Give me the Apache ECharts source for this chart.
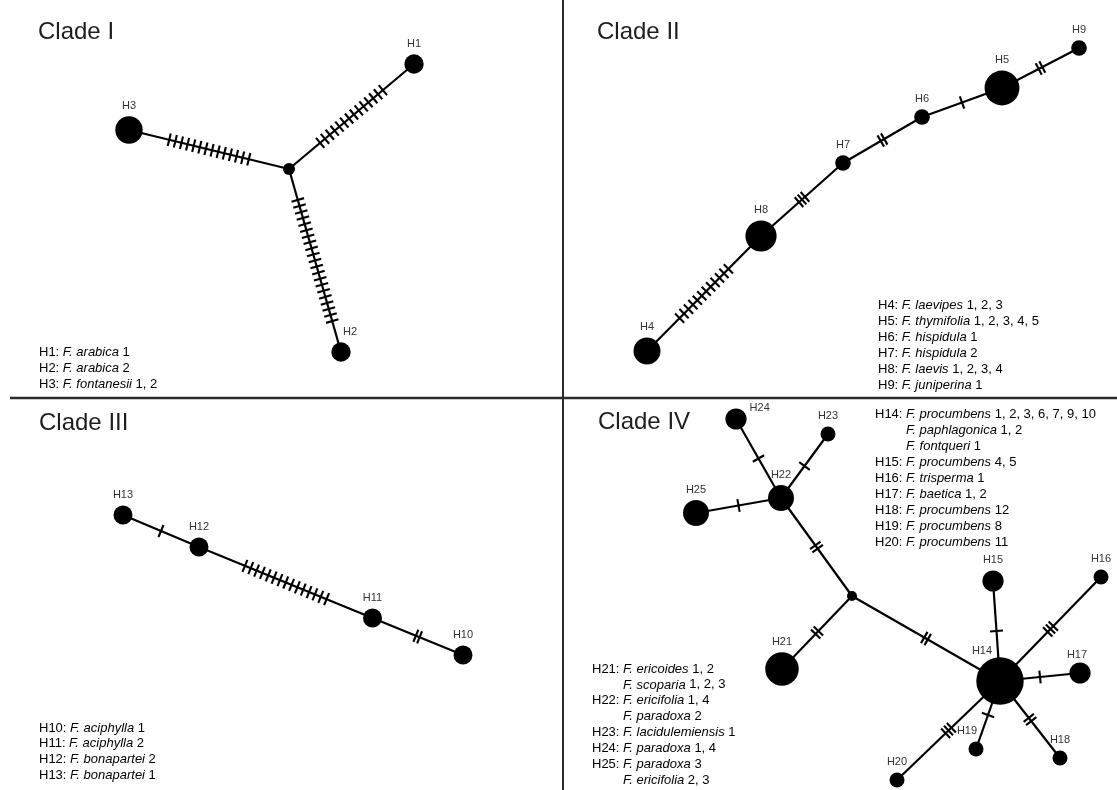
<!DOCTYPE html>
<html><head><meta charset="utf-8">
<script src="https://cdn.jsdelivr.net/npm/echarts@6/dist/echarts.min.js"></script>
<style>html,body{margin:0;padding:0;background:#fff}#c{width:1117px;height:790px}</style>
</head><body><div id="c"></div>
<script>
// ---------- DATA ----------
const cladeTitles = ['Clade I', 'Clade II', 'Clade III', 'Clade IV'];

// Haplotype nodes: [name, x, y] in each panel's own network layout units ("mv" = median vector)
const nodesI   = [['H1',414,64],['H2',341,352],['H3',129,130],['mvI',289,169]];
const nodesII  = [['H4',84,351],['H5',439,88],['H6',359,117],['H7',280,163],['H8',198,236],['H9',516,48]];
const nodesIII = [['H10',463,257],['H11',372.5,220],['H12',199,149],['H13',123,117]];
const nodesIV  = [['H14',437,283],['H15',430,183],['H16',538,179],['H17',517,275],['H18',497,360],
                  ['H19',413,351],['H20',334,382],['H21',219,271],['H22',218,100],['H23',265,36],
                  ['H24',173,21],['H25',133,115],['mvIV',289,198]];

// Network edges: [from, to, number of mutational steps]
const edgesI   = [['mvI','H3',14],['mvI','H1',14],['mvI','H2',21]];
const edgesII  = [['H4','H8',12],['H8','H7',3],['H7','H6',2],['H6','H5',1],['H5','H9',2]];
const edgesIII = [['H13','H12',1],['H12','H11',15],['H11','H10',2]];
const edgesIV  = [['H22','H24',1],['H22','H23',1],['H22','H25',1],['H22','mvIV',2],['mvIV','H21',2],
                  ['mvIV','H14',2],['H14','H15',1],['H14','H16',3],['H14','H17',1],['H14','H18',2],
                  ['H14','H19',1],['H14','H20',3]];

// Legends: [haplotype, [[taxon, specimen numbers], ...]]
const legendI = [['H1',[['F. arabica','1']]],['H2',[['F. arabica','2']]],['H3',[['F. fontanesii','1, 2']]]];
const legendII = [['H4',[['F. laevipes','1, 2, 3']]],['H5',[['F. thymifolia','1, 2, 3, 4, 5']]],
  ['H6',[['F. hispidula','1']]],['H7',[['F. hispidula','2']]],['H8',[['F. laevis','1, 2, 3, 4']]],
  ['H9',[['F. juniperina','1']]]];
const legendIII = [['H10',[['F. aciphylla','1']]],['H11',[['F. aciphylla','2']]],
  ['H12',[['F. bonapartei','2']]],['H13',[['F. bonapartei','1']]]];
const legendIVa = [['H14',[['F. procumbens','1, 2, 3, 6, 7, 9, 10'],['F. paphlagonica','1, 2'],['F. fontqueri','1']]],
  ['H15',[['F. procumbens','4, 5']]],['H16',[['F. trisperma','1']]],['H17',[['F. baetica','1, 2']]],
  ['H18',[['F. procumbens','12']]],['H19',[['F. procumbens','8']]],['H20',[['F. procumbens','11']]]];
const legendIVb = [['H21',[['F. ericoides','1, 2'],['F. scoparia','1, 2, 3']]],
  ['H22',[['F. ericifolia','1, 4'],['F. paradoxa','2']]],['H23',[['F. lacidulemiensis','1']]],
  ['H24',[['F. paradoxa','1, 4']]],['H25',[['F. paradoxa','3'],['F. ericifolia','2, 3']]]];

// ---------- LAYOUT / STYLE ----------
const W = 1117, H = 790, VX = 563, HY = 398;
const panels = [
  {left:0,  top:0,  width:VX,   height:HY,   nodes:nodesI,   edges:edgesI,   base:9.7, mv:6, title:[38,33]},
  {left:VX, top:0,  width:W-VX, height:HY,   nodes:nodesII,  edges:edgesII,  base:7.8, mv:5, title:[597,33]},
  {left:0,  top:HY, width:VX,   height:H-HY, nodes:nodesIII, edges:edgesIII, base:9.5, mv:5, title:[39,424]},
  {left:VX, top:HY, width:W-VX, height:H-HY, nodes:nodesIV,  edges:edgesIV,  base:7.5, mv:5, title:[598,423]}
];
const legendBlocks = [
  {items:legendI,   x:39,  y:352, lh:16.3},
  {items:legendII,  x:878, y:305, lh:16},
  {items:legendIII, x:39,  y:728, lh:15.7},
  {items:legendIVa, x:875, y:414, lh:16},
  {items:legendIVb, x:592, y:669, lh:15.9}
];
const labelTweaks = {
  H2:{offset:[9,0]}, H24:{position:'right', distance:3, offset:[0,-11]},
  H14:{offset:[-18,4]}, H19:{offset:[-9,0]}, H17:{offset:[-3,3]}
};
const FONT = '"Liberation Sans", Arial, Helvetica, sans-serif';
const LEG_SIZE = 13;

// sample counts per haplotype, from the legends
const counts = {};
[legendI, legendII, legendIII, legendIVa, legendIVb].forEach(L => L.forEach(([h, taxa]) => {
  counts[h] = taxa.reduce((s, t) => s + t[1].split(',').length, 0);
}));

const ctx = document.createElement('canvas').getContext('2d');
ctx.font = LEG_SIZE + 'px ' + FONT;

const grids = [], xAxes = [], yAxes = [], series = [], titles = [];
panels.forEach((p, gi) => {
  grids.push({left:p.left, top:p.top, width:p.width, height:p.height, containLabel:false});
  xAxes.push({type:'value', gridIndex:gi, min:0, max:p.width, show:false});
  yAxes.push({type:'value', gridIndex:gi, min:0, max:p.height, inverse:true, show:false});
  titles.push({text:cladeTitles[gi], left:p.title[0], top:p.title[1]-13, padding:0,
    textStyle:{fontSize:24, fontWeight:'normal', color:'#1e1e1e', fontFamily:FONT}});
  const pos = {};
  p.nodes.forEach(n => pos[n[0]] = [n[1], n[2]]);
  series.push({
    type:'custom', xAxisIndex:gi, yAxisIndex:gi, clip:false, z:1, silent:true,
    data:p.edges.map(e => [pos[e[0]][0], pos[e[0]][1], pos[e[1]][0], pos[e[1]][1], e[2]]),
    encode:{x:[0,2], y:[1,3]},
    renderItem:(params, api) => {
      const a = api.coord([api.value(0), api.value(1)]);
      const b = api.coord([api.value(2), api.value(3)]);
      const k = api.value(4);
      const dx = b[0]-a[0], dy = b[1]-a[1], L = Math.hypot(dx, dy);
      const ux = dx/L, uy = dy/L, nx = -uy, ny = ux;
      const mx = (a[0]+b[0])/2, my = (a[1]+b[1])/2;
      const sp = k > 3 ? 6.3 : 4, h = 6.5;
      const children = [{type:'line', shape:{x1:a[0], y1:a[1], x2:b[0], y2:b[1]},
        style:{stroke:'#000', lineWidth:2.2}}];
      for (let i = 0; i < k; i++) {
        const t = (i - (k-1)/2) * sp;
        const cx = mx + ux*t, cy = my + uy*t;
        children.push({type:'line', shape:{x1:cx+nx*h, y1:cy+ny*h, x2:cx-nx*h, y2:cy-ny*h},
          style:{stroke:'#000', lineWidth:2.1}});
      }
      return {type:'group', children};
    }
  });
  series.push({
    type:'scatter', xAxisIndex:gi, yAxisIndex:gi, clip:false, z:3, silent:true,
    data:p.nodes.map(n => {
      const d = {name:n[0], value:[n[1], n[2], counts[n[0]] || 0]};
      if (labelTweaks[n[0]]) d.label = labelTweaks[n[0]];
      return d;
    }),
    symbolSize:v => v[2] ? 2*p.base*Math.sqrt(v[2]) : 2*p.mv,
    itemStyle:{color:'#000', opacity:1},
    label:{show:true, position:'top', distance:5, fontSize:11, color:'#333', fontFamily:FONT,
      formatter:q => q.data.value[2] ? q.name : ''},
    emphasis:{disabled:true}
  });
});

// dividers and legend text blocks
const graphics = [
  {type:'line', shape:{x1:VX, y1:0, x2:VX, y2:H}, style:{stroke:'#2b2b2b', lineWidth:2}, z:10},
  {type:'line', shape:{x1:10, y1:HY, x2:W, y2:HY}, style:{stroke:'#2b2b2b', lineWidth:2.5}, z:10}
];
const rich = {
  a:{fontSize:LEG_SIZE, fontFamily:FONT, color:'#1a1a1a'},
  i:{fontSize:LEG_SIZE, fontFamily:FONT, color:'#1a1a1a', fontStyle:'italic'}
};
legendBlocks.forEach(b => {
  let line = 0;
  b.items.forEach(([hap, taxa]) => {
    const prefix = hap + ': ';
    const pw = ctx.measureText(prefix).width;
    taxa.forEach((t, j) => {
      const txt = (j === 0 ? '{a|' + prefix + '}' : '') + '{i|' + t[0] + '}{a| ' + t[1] + '}';
      graphics.push({type:'text', x:b.x + (j === 0 ? 0 : pw), y:b.y + line*b.lh, silent:true,
        style:{text:txt, rich, verticalAlign:'middle', align:'left'}});
      line++;
    });
  });
});

const chart = echarts.init(document.getElementById('c'), null, {renderer:'canvas'});
chart.setOption({
  animation:false, backgroundColor:'#fff',
  title:titles, grid:grids, xAxis:xAxes, yAxis:yAxes, series, graphic:graphics
});
</script></body></html>
